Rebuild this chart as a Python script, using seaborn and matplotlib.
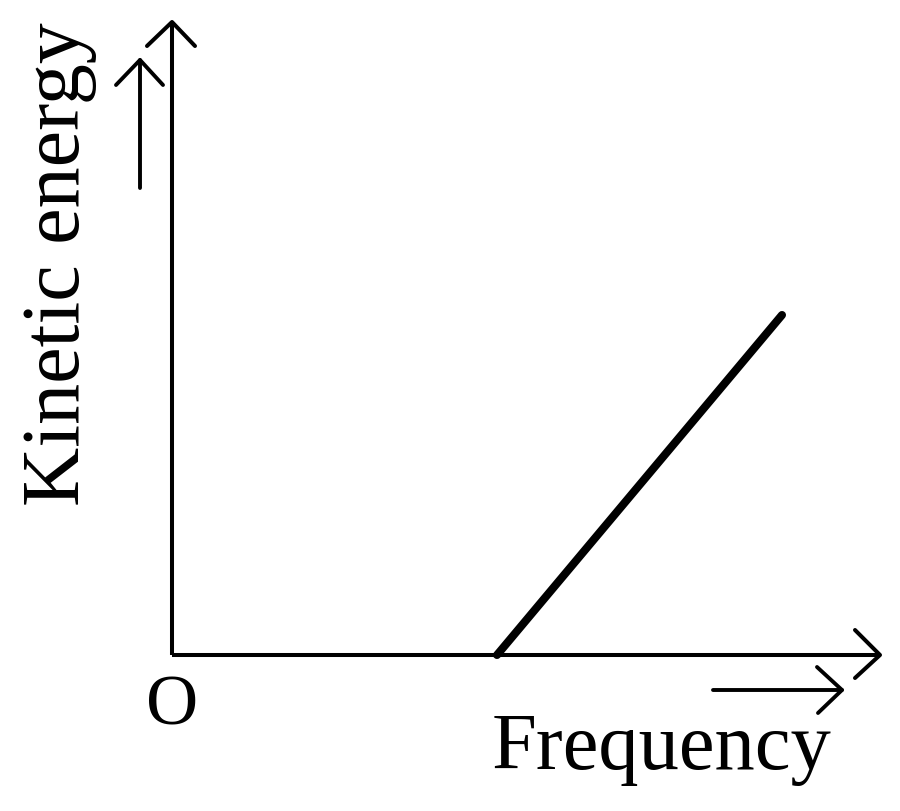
import matplotlib
matplotlib.use("Agg")
import matplotlib.pyplot as plt
import seaborn as sns
import pandas as pd

# Data (units: arbitrary, origin at O)
frequency = [325, 610]
kinetic_energy = [0, 340]
x_label = "Frequency"
y_label = "Kinetic energy"
origin_label = "O"

sns.set_theme(style="white")
plt.rcParams['font.family'] = ['Liberation Serif', 'DejaVu Serif']

W, H = 900, 811
ox, oy = 172, 655
fig = plt.figure(figsize=(9, 8.11), dpi=100)
ax = fig.add_axes([0, 0, 1, 1])
ax.set_xlim(-ox, W - ox)
ax.set_ylim(-(H - oy), oy)
ax.axis("off")

k = "black"
alw = 2.9
# axes
ax.plot([0, 708], [0, 0], color=k, lw=alw, solid_capstyle="butt")
ax.plot([683, 708, 683], [25, 0, -23], color=k, lw=alw)
ax.plot([0, 0], [0, 633], color=k, lw=alw, solid_capstyle="butt")
ax.plot([-25, 0, 23], [609, 633, 609], color=k, lw=alw)

# line
df = pd.DataFrame({"f": frequency, "ke": kinetic_energy})
sns.lineplot(data=df, x="f", y="ke", ax=ax, color=k, lw=5.8, solid_capstyle="round")

# label arrows
ax.plot([541, 670], [-35, -35], color=k, lw=2.8)
ax.plot([645, 670, 646], [-12, -35, -58], color=k, lw=2.8)
ax.plot([-32, -32], [467, 595], color=k, lw=2.8)
ax.plot([-56, -32, -9], [570, 595, 570], color=k, lw=2.8)

ax.text(490, -95, x_label, fontsize=58, ha="center", va="center", color=k)
ax.text(-113, 391, y_label, fontsize=59, rotation=90, ha="center", va="center", color=k)
ax.text(0, -52, origin_label, fontsize=52, ha="center", va="center", color=k)

fig.savefig("out.png", dpi=100)
